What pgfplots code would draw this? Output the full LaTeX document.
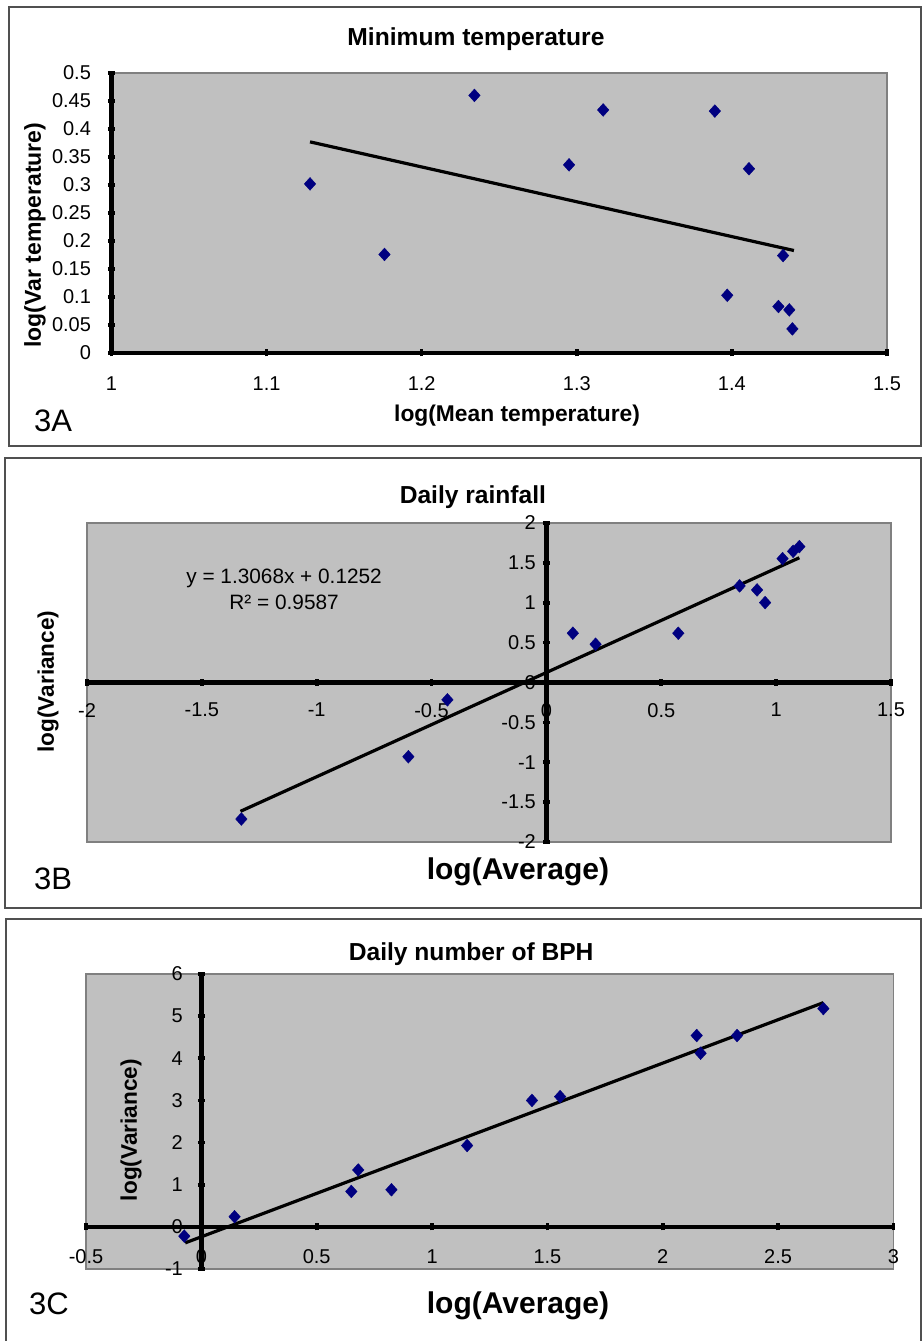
\documentclass[border=0pt]{standalone}
\usepackage{fontspec}
\setmainfont{Liberation Sans}
\usepackage{pgfplots}
\usepackage{pgfplotstable}
\pgfplotsset{compat=1.18}
\definecolor{bgGray}{HTML}{C0C0C0}
\definecolor{bdGray}{HTML}{808080}
\definecolor{navy}{HTML}{000080}
\definecolor{frameGray}{HTML}{505050}

\pgfplotstableread{
x y
1.128 0.302
1.176 0.176
1.234 0.460
1.295 0.336
1.317 0.434
1.389 0.432
1.411 0.329
1.433 0.174
1.397 0.103
1.430 0.083
1.437 0.077
1.439 0.043
}\dataA
\pgfplotstableread{
x y
-1.328 -1.712
-0.601 -0.931
-0.431 -0.217
0.115 0.618
0.214 0.480
0.574 0.618
0.841 1.211
0.917 1.161
0.952 1.002
1.028 1.553
1.074 1.645
1.101 1.704
}\dataB
\pgfplotstableread{
x y
-0.074 -0.22
0.144 0.24
0.650 0.84
0.680 1.35
0.824 0.88
1.152 1.93
1.433 3.00
1.555 3.09
2.147 4.54
2.164 4.12
2.322 4.54
2.696 5.18
}\dataC

\tikzset{
  xlab/.style={anchor=base, xshift=0pt, yshift=0pt},
}
\pgfplotsset{
  panel/.style={
    scale only axis, clip=false,
    axis background/.style={fill=bgGray, draw=bdGray, line width=0.7pt},
    axis line style={line width=2.2pt, black},
    every inner x axis line/.append style={-},
    every inner y axis line/.append style={-},
    every outer x axis line/.append style={-},
    every outer y axis line/.append style={-},
    tick style={line width=1.8pt, black},
    major tick length=3.5pt,
    tick align=outside,
    ticklabel style={font=\fontsize{10}{12}\selectfont},
    every axis title/.style={at={(0.5,1)}, anchor=base, font=\bfseries\fontsize{12.3}{14}\selectfont},
    hide obscured x ticks=false, hide obscured y ticks=false,
  },
  pts/.style={only marks, mark=diamond*, mark size=3.2pt, mark options={fill=navy, draw=navy, line width=0.2pt, xscale=1.2}},
  trend/.style={no marks, black, line width=1.6pt},
}

\begin{document}
\begin{tikzpicture}
\path[use as bounding box] (0pt,0pt) rectangle (461.5pt,670.5pt);
\draw[frameGray, line width=0.8pt] (4.5pt,667pt) rectangle (460.5pt,447.5pt);
\draw[frameGray, line width=0.8pt] (2.5pt,441.5pt) rectangle (460.5pt,216.5pt);
\draw[frameGray, line width=0.8pt] (3pt,211pt) rectangle (460.5pt,-5pt);

% ---------- 3A ----------
\begin{axis}[panel, axis lines=left,
  axis line style={-},
  at={(55.75pt,494pt)}, anchor=south west, width=387.75pt, height=140pt,
  xmin=1, xmax=1.5, ymin=0, ymax=0.5,
  xtick={1,1.1,1.2,1.3,1.4,1.5}, xticklabels={1,1.1,1.2,1.3,1.4,1.5},
  ytick={0,0.05,0.1,0.15,0.2,0.25,0.3,0.35,0.4,0.45,0.5},
  yticklabels={0,0.05,0.1,0.15,0.2,0.25,0.3,0.35,0.4,0.45,0.5},
  xticklabel style={anchor=north, yshift=-6.5pt},
  yticklabel style={anchor=east, xshift=-5pt},
  title={Minimum temperature},
  title style={at={(axis description cs:0.470,1.0975)}},
  xlabel={log(Mean temperature)},
  xlabel style={xlab, at={(axis description cs:0.523,-0.245)}, font=\bfseries\fontsize{11.4}{13}\selectfont},
  ylabel={log(Var temperature)},
  ylabel style={at={(axis description cs:-0.0986,0.421)}, anchor=center, xshift=0pt, yshift=0pt, font=\bfseries\fontsize{11.5}{13}\selectfont},
]
\addplot[trend] coordinates {(1.128,0.377) (1.440,0.183)};
\addplot[pts] table[x=x,y=y] {\dataA};
\end{axis}

% ---------- 3B ----------
\begin{axis}[panel, axis lines=middle,
  axis line style={-},
  at={(43.5pt,249.5pt)}, anchor=south west, width=402pt, height=159.5pt,
  xmin=-2, xmax=1.5, ymin=-2, ymax=2,
  xtick={-2,-1.5,-1,-0.5,0,0.5,1,1.5}, xticklabels={-2,-1.5,-1,-0.5,0,0.5,1,1.5},
  ytick={-2,-1.5,-1,-0.5,0,0.5,1,1.5,2}, yticklabels={-2,-1.5,-1,-0.5,0,0.5,1,1.5,2},
  xticklabel style={anchor=north, yshift=-5pt},
  yticklabel style={anchor=east, xshift=0pt},
  title={Daily rainfall},
  title style={at={(axis description cs:0.480,1.0596)}},
  xlabel={log(Average)},
  xlabel style={xlab, at={(axis description cs:0.536,-0.119)}, font=\bfseries\fontsize{15}{17}\selectfont},
  ylabel={log(Variance)},
  ylabel style={at={(axis description cs:-0.0485,0.503)}, anchor=center, xshift=0pt, yshift=0pt, rotate=90, font=\bfseries\fontsize{11.3}{13}\selectfont},
]
\addplot[trend] coordinates {(-1.332,-1.6155) (1.101,1.5640)};
\addplot[pts] table[x=x,y=y] {\dataB};
\node[anchor=base, font=\fontsize{10.4}{12}\selectfont] at (axis cs:-1.142,1.24) {y = 1.3068x + 0.1252};
\node[anchor=base, font=\fontsize{10.4}{12}\selectfont] at (axis cs:-1.142,0.92) {R² = 0.9587};
\end{axis}

% ---------- 3C ----------
\begin{axis}[panel, axis lines=middle,
  axis line style={-},
  at={(43pt,36pt)}, anchor=south west, width=403.75pt, height=147.5pt,
  xmin=-0.5, xmax=3, ymin=-1, ymax=6,
  xtick={-0.5,0,0.5,1,1.5,2,2.5,3}, xticklabels={-0.5,0,0.5,1,1.5,2,2.5,3},
  ytick={-1,0,1,2,3,4,5,6}, yticklabels={-1,0,1,2,3,4,5,6},
  xticklabel style={anchor=north, yshift=-6pt},
  yticklabel style={anchor=east, xshift=-4pt},
  title={Daily number of BPH},
  title style={at={(axis description cs:0.477,1.047)}},
  xlabel={log(Average)},
  xlabel style={xlab, at={(axis description cs:0.535,-0.1525)}, font=\bfseries\fontsize{15}{17}\selectfont},
  ylabel={log(Variance)},
  ylabel style={at={(axis description cs:0.0557,0.471)}, anchor=center, xshift=0pt, yshift=0pt, rotate=90, font=\bfseries\fontsize{11.3}{13}\selectfont},
]
\addplot[trend] coordinates {(-0.07,-0.38) (2.696,5.32)};
\addplot[pts] table[x=x,y=y] {\dataC};
\end{axis}

\node[anchor=base west, font=\fontsize{15.5}{17}\selectfont] at (13.5pt,454.65pt) {3A};
\node[anchor=base west, font=\fontsize{15.5}{17}\selectfont] at (13.5pt,225.5pt) {3B};
\node[anchor=base west, font=\fontsize{15.5}{17}\selectfont] at (11pt,13pt) {3C};
\end{tikzpicture}
\end{document}
